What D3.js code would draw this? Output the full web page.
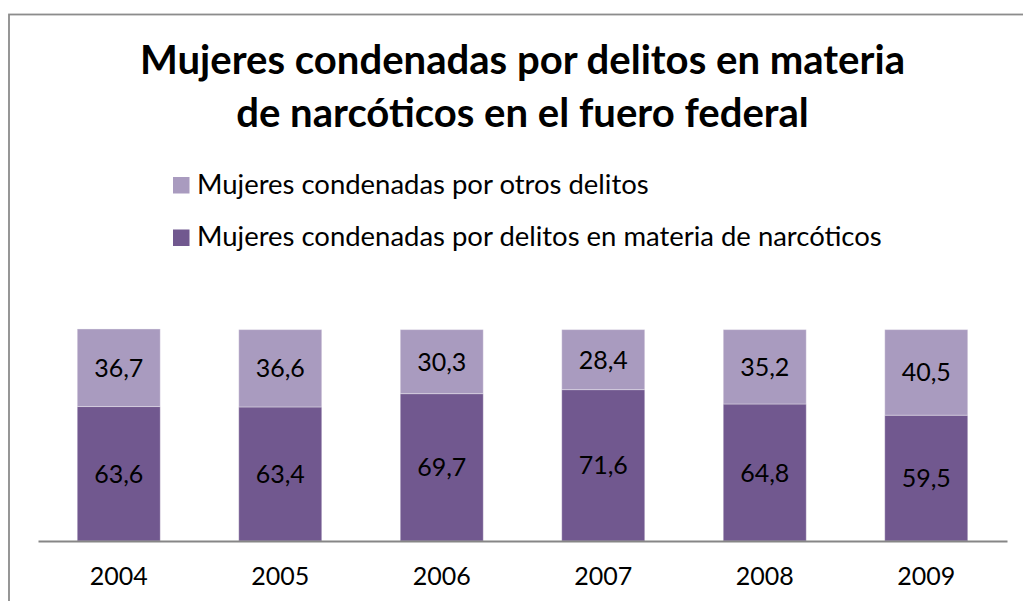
<!DOCTYPE html>
<html>
<head>
<meta charset="utf-8">
<script src="https://cdn.jsdelivr.net/npm/d3@7"></script>
<style>
  body { margin: 0; background: #fff; }
  svg { display: block; font-family: Lato, "Open Sans", sans-serif; }
</style>
</head>
<body>
<div id="chart"></div>
<script>
var years = ['2004', '2005', '2006', '2007', '2008', '2009'];
var narcoticos = [63.6, 63.4, 69.7, 71.6, 64.8, 59.5];
var otros = [36.7, 36.6, 30.3, 28.4, 35.2, 40.5];
var seriesKeys = ['narcoticos', 'otros'];
var seriesNames = {
  narcoticos: 'Mujeres condenadas por delitos en materia de narcóticos',
  otros: 'Mujeres condenadas por otros delitos'
};
var titleLines = ['Mujeres condenadas por delitos en materia', 'de narcóticos en el fuero federal'];

var width = 1023, height = 601;
var colors = { narcoticos: '#71588f', otros: '#a99bbf' };

var rows = years.map(function(y, i){
  return { year: y, narcoticos: narcoticos[i], otros: otros[i] };
});

var svg = d3.select('#chart').append('svg')
  .attr('width', width).attr('height', height);

// chart border (runs off the right and bottom edges)
svg.append('rect')
  .attr('x', 9).attr('y', 14.5)
  .attr('width', 1040).attr('height', 620)
  .attr('fill', 'none')
  .attr('stroke', '#8c8c8c')
  .attr('stroke-width', 1.8);

// shrink/grow a text so it spans a given width
function fit(sel, target, start){
  sel.style('font-size', start + 'px');
  var w = sel.node().getComputedTextLength();
  var size = start * target / w;
  sel.style('font-size', size + 'px');
  return size;
}

// title
var t1 = svg.append('text').attr('x', 522.5).attr('y', 73.5)
  .attr('text-anchor', 'middle').attr('font-weight', 'bold').text(titleLines[0]);
var tsize = fit(t1, 765, 36);
svg.append('text').attr('x', 522.5).attr('y', 126.5)
  .attr('text-anchor', 'middle').attr('font-weight', 'bold')
  .style('font-size', tsize + 'px').text(titleLines[1]);

// legend
var legendOrder = ['otros', 'narcoticos'];
var legend = svg.selectAll('.legend').data(legendOrder).enter().append('g')
  .attr('class', 'legend')
  .attr('transform', function(d, i){ return 'translate(173,' + (177 + i * 52.5) + ')'; });
legend.append('rect').attr('width', 16.5).attr('height', 16.5)
  .attr('fill', function(d){ return colors[d]; });
var lt = legend.append('text').attr('x', 24).attr('y', 16.5)
  .attr('fill', '#000').text(function(d){ return seriesNames[d]; });
var lsize = fit(d3.select(lt.nodes()[1]), 685, 22);
lt.style('font-size', lsize + 'px');

// scales
var x = d3.scaleBand().domain(years).range([38, 1007]).paddingInner(0.486).paddingOuter(0.243);
var y = d3.scaleLinear().domain([0, 100]).range([541, 329.6]);

var stack = d3.stack().keys(seriesKeys);
var layers = stack(rows);

var fmt = d3.formatLocale({ decimal: ',', thousands: '.', grouping: [3], currency: ['', ''] }).format('.1f');

var g = svg.selectAll('.layer').data(layers).enter().append('g')
  .attr('class', 'layer')
  .attr('fill', function(d){ return colors[d.key]; });

g.selectAll('rect').data(function(d){ return d; }).enter().append('rect')
  .attr('x', function(d){ return x(d.data.year); })
  .attr('y', function(d){ return y(d[1]); })
  .attr('width', x.bandwidth())
  .attr('height', function(d){ return y(d[0]) - y(d[1]); })
  .attr('stroke', 'rgba(255,255,255,0.35)')
  .attr('stroke-width', 1);

// data labels
svg.selectAll('.lbl').data(layers).enter().append('g').attr('class', 'lbl')
  .selectAll('text').data(function(d){ return d; }).enter().append('text')
  .attr('x', function(d){ return x(d.data.year) + x.bandwidth() / 2; })
  .attr('y', function(d){ return (y(d[0]) + y(d[1])) / 2; })
  .attr('text-anchor', 'middle')
  .attr('dy', '0.36em')
  .style('font-size', '25px')
  .attr('fill', '#000')
  .text(function(d){ return fmt(d[1] - d[0]); });

// category axis
var axis = svg.append('g').attr('transform', 'translate(0,541)')
  .call(d3.axisBottom(x).tickSize(0).tickPadding(0));
axis.select('.domain').attr('stroke', '#868686').attr('stroke-width', 2);
axis.selectAll('text')
  .attr('y', 44)
  .attr('dy', 0)
  .style('font-size', '25px')
  .style('font-family', 'Lato, "Open Sans", sans-serif')
  .attr('fill', '#000');
</script>
</body>
</html>
